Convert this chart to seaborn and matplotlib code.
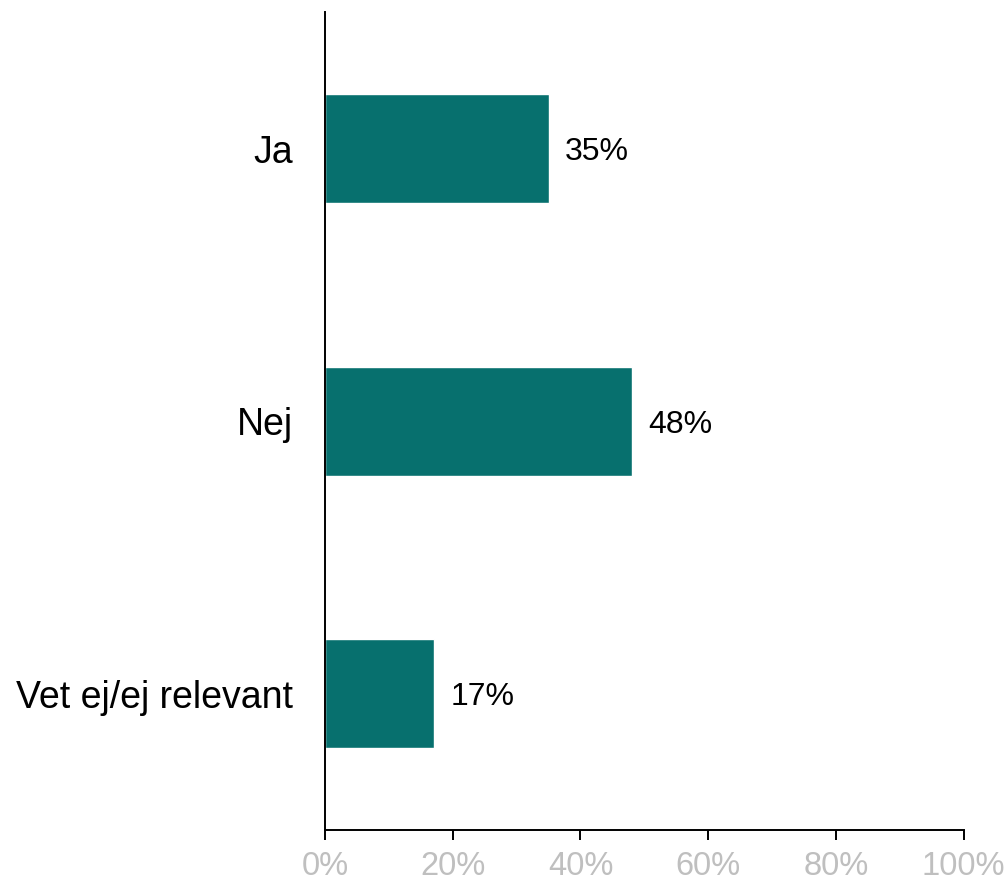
import matplotlib
matplotlib.use("Agg")
import matplotlib.pyplot as plt
import seaborn as sns
import pandas as pd
from matplotlib.ticker import FuncFormatter

categories = ["Ja", "Nej", "Vet ej/ej relevant"]
values = [35, 48, 17]
xticks = [0, 20, 40, 60, 80, 100]

sns.set_theme(style="white")
plt.rcParams["font.family"] = ["Liberation Sans", "DejaVu Sans"]

df = pd.DataFrame({"svar": categories, "andel": values})

fig = plt.figure(figsize=(10.06, 8.82), dpi=100)
ax = fig.add_axes([0.323, 0.059, 0.635, 0.927])

sns.barplot(data=df, x="andel", y="svar", orient="h", color="#07706E",
            saturation=1, width=0.4, ax=ax)

for i, v in enumerate(values):
    ax.annotate(f"{v}%", xy=(v, i), xytext=(12, 0), textcoords="offset points",
                ha="left", va="center_baseline", fontsize=23, color="black")

ax.set_xlim(0, 100)
ax.set_ylim(2.5, -0.5)
ax.set_xticks(xticks)
ax.xaxis.set_major_formatter(FuncFormatter(lambda x, _: f"{x:.0f}%"))
ax.set_xlabel("")
ax.set_ylabel("")

for side in ["top", "right"]:
    ax.spines[side].set_visible(False)
for side in ["left", "bottom"]:
    ax.spines[side].set_visible(True)
    ax.spines[side].set_color("black")
    ax.spines[side].set_linewidth(1.4)

ax.tick_params(axis="x", bottom=True, direction="out", length=7, width=1.4,
               color="black", labelcolor="#BFBFBF", labelsize=23.5, pad=8)
ax.tick_params(axis="y", left=False, labelcolor="black", labelsize=27, pad=17)

fig.savefig("out.png", dpi=100, facecolor="white")
